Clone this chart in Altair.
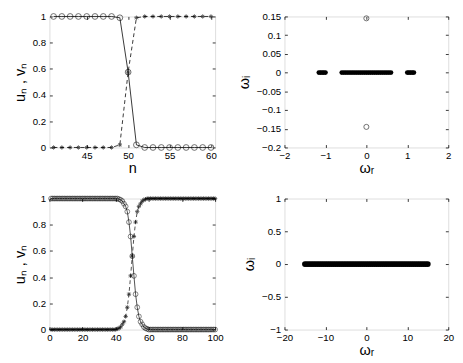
import altair as alt
import pandas as pd

# ---------------- data ----------------
# top-left panel (zoom on the kink)
n_top = list(range(41, 61))
u_top = [1, 1, 1, 1, 1, 1, 1, 1, 0.99, 0.575, 0.02, 0, 0, 0, 0, 0, 0, 0, 0, 0]
v_top = [0, 0, 0, 0, 0, 0, 0, 0, 0.02, 0.575, 0.99, 1, 1, 1, 1, 1, 1, 1, 1, 1]

# bottom-left panel (full lattice)
n_bot = list(range(1, 101))
u_bot = ([1.0] * 41 +
         [0.995, 0.99, 0.98, 0.96, 0.94, 0.9, 0.82, 0.71, 0.56, 0.41, 0.27,
          0.17, 0.1, 0.06, 0.04, 0.02, 0.01, 0.005] +
         [0.0] * 41)
v_bot = ([0.0] * 40 +
         [0.005, 0.01, 0.02, 0.04, 0.06, 0.1, 0.17, 0.27, 0.41, 0.56, 0.71,
          0.82, 0.9, 0.94, 0.96, 0.98, 0.99, 0.995] +
         [1.0] * 42)

# top-right spectrum
wr_band1 = [-1.16, -1.12, -1.08, -1.04, -1.0,
            -0.6, -0.55, -0.5, -0.45, -0.4, -0.35, -0.3, -0.25, -0.2, -0.15,
            -0.1, -0.05, 0.0, 0.05, 0.1, 0.15, 0.2, 0.25, 0.3, 0.35, 0.4,
            0.45, 0.5, 0.55, 0.6,
            1.0, 1.04, 1.08, 1.12, 1.16]
wr_unstable = [0.0, 0.0]
wi_unstable = [0.145, -0.145]

# bottom-right spectrum
wr_band2 = [-15.0, -14.5, -14.0, -13.5, -13.0, -12.5, -12.0, -11.5, -11.0,
            -10.5, -10.0, -9.5, -9.0, -8.5, -8.0, -7.5, -7.0, -6.5, -6.0,
            -5.5, -5.0, -4.5, -4.0, -3.5, -3.0, -2.5, -2.0, -1.5, -1.0, -0.5,
            0.0, 0.5, 1.0, 1.5, 2.0, 2.5, 3.0, 3.5, 4.0, 4.5, 5.0, 5.5, 6.0,
            6.5, 7.0, 7.5, 8.0, 8.5, 9.0, 9.5, 10.0, 10.5, 11.0, 11.5, 12.0,
            12.5, 13.0, 13.5, 14.0, 14.5, 15.0]

STAR = "M-1,0L1,0M0,-1L0,1M-0.7,-0.7L0.7,0.7M-0.7,0.7L0.7,-0.7"

WL, WR, H = 172, 170, 136
FONT = "Liberation Sans"


def panel(layers_fn, xdom, ydom, xticks, yticks, xtitle, ytitle, width):
    xs = alt.Scale(domain=xdom, nice=False, zero=False)
    ys = alt.Scale(domain=ydom, nice=False, zero=False)
    common = dict(format="~r", offset=-3, tickSize=3, domain=False, grid=False,
                  labelFlush=False, labelOverlap=False,
                  labelFont=FONT, labelFontSize=10, labelColor="black",
                  titleFont=FONT, titleFontSize=15, titleFontWeight="normal",
                  titleColor="black", tickColor="black", tickWidth=0.8)
    main_xaxis = alt.Axis(values=xticks, title=xtitle, labelPadding=3,
                          titlePadding=1, **common) if xtitle else \
        alt.Axis(values=xticks, title=None, labelPadding=3, **common)
    main_yaxis = alt.Axis(values=yticks, title=ytitle, labelPadding=4,
                          titlePadding=5, **common)
    mirror_x = alt.Axis(values=xticks, orient="top", labels=False, title=None,
                        offset=-3, tickSize=3, domain=False, grid=False,
                        tickColor="black", tickWidth=0.8)
    mirror_y = alt.Axis(values=yticks, orient="right", labels=False, title=None,
                        offset=-3, tickSize=3, domain=False, grid=False,
                        tickColor="black", tickWidth=0.8)
    layers = layers_fn(xs, ys)
    first = layers[0]
    ax1 = first.mark_point(opacity=0).encode(
        x=alt.X("x:Q", scale=xs, axis=main_xaxis),
        y=alt.Y("y:Q", scale=ys, axis=main_yaxis))
    ax2 = first.mark_point(opacity=0).encode(
        x=alt.X("x:Q", scale=xs, axis=mirror_x),
        y=alt.Y("y:Q", scale=ys, axis=mirror_y))
    return alt.layer(ax1, *layers[1:], ax2).resolve_axis(
        x="independent", y="independent").properties(width=width, height=H)


def tl_layers(xs, ys):
    du = pd.DataFrame({"x": n_top, "y": u_top})
    dv = pd.DataFrame({"x": n_top, "y": v_top})
    X = alt.X("x:Q", scale=xs, axis=None)
    Y = alt.Y("y:Q", scale=ys, axis=None)
    return [
        alt.Chart(du),
        alt.Chart(du).mark_line(color="black", strokeWidth=0.8).encode(x=X, y=Y),
        alt.Chart(dv).mark_line(color="black", strokeWidth=0.8,
                                strokeDash=[4, 3]).encode(x=X, y=Y),
        alt.Chart(du).mark_point(shape="circle", filled=False, color="black",
                                 size=36, strokeWidth=0.8).encode(x=X, y=Y),
        alt.Chart(dv).mark_point(shape=STAR, filled=False, color="black",
                                 size=20, strokeWidth=0.9).encode(x=X, y=Y),
    ]


def bl_layers(xs, ys):
    du = pd.DataFrame({"x": n_bot, "y": u_bot})
    dv = pd.DataFrame({"x": n_bot, "y": v_bot})
    X = alt.X("x:Q", scale=xs, axis=None)
    Y = alt.Y("y:Q", scale=ys, axis=None)
    return [
        alt.Chart(du),
        alt.Chart(du).mark_line(color="black", strokeWidth=0.7).encode(x=X, y=Y),
        alt.Chart(dv).mark_line(color="black", strokeWidth=0.7,
                                strokeDash=[4, 3]).encode(x=X, y=Y),
        alt.Chart(du).mark_point(shape="circle", filled=False, color="black",
                                 size=25, strokeWidth=0.7).encode(x=X, y=Y),
        alt.Chart(dv).mark_point(shape=STAR, filled=False, color="black",
                                 size=20, strokeWidth=0.9).encode(x=X, y=Y),
    ]


def tr_layers(xs, ys):
    db = pd.DataFrame({"x": wr_band1, "y": [0.0] * len(wr_band1)})
    du = pd.DataFrame({"x": wr_unstable, "y": wi_unstable})
    X = alt.X("x:Q", scale=xs, axis=None)
    Y = alt.Y("y:Q", scale=ys, axis=None)
    return [
        alt.Chart(db),
        alt.Chart(db).mark_point(shape="circle", filled=True, color="black",
                                 size=25, opacity=1).encode(x=X, y=Y),
        alt.Chart(du).mark_point(shape="circle", filled=False, color="black",
                                 size=28, strokeWidth=0.8).encode(x=X, y=Y),
    ]


def br_layers(xs, ys):
    db = pd.DataFrame({"x": wr_band2, "y": [0.0] * len(wr_band2)})
    X = alt.X("x:Q", scale=xs, axis=None)
    Y = alt.Y("y:Q", scale=ys, axis=None)
    return [
        alt.Chart(db),
        alt.Chart(db).mark_point(shape="circle", filled=True, color="black",
                                 size=36, opacity=1).encode(x=X, y=Y),
    ]


tl = panel(tl_layers, [40.5, 60.5], [0, 1], [45, 50, 55, 60],
           [0, 0.2, 0.4, 0.6, 0.8, 1], "n", "uₙ , vₙ", WL)
tr = panel(tr_layers, [-2, 2], [-0.2, 0.15], [-2, -1, 0, 1, 2],
           [-0.2, -0.15, -0.1, -0.05, 0, 0.05, 0.1, 0.15], "ωᵣ", "ωᵢ", WR)
bl = panel(bl_layers, [0, 100], [0, 1], [0, 20, 40, 60, 80, 100],
           [0, 0.2, 0.4, 0.6, 0.8, 1], None, "uₙ , vₙ", WL)
br = panel(br_layers, [-20, 20], [-1, 1], [-20, -10, 0, 10, 20],
           [-1, -0.5, 0, 0.5, 1], "ωᵣ", "ωᵢ", WR)

chart = alt.concat(tl, tr, bl, br, columns=2,
                   spacing={"row": 17, "column": 13}).properties(
    padding={"left": 4, "top": -4, "right": 0, "bottom": 0}
).configure_view(
    stroke="black", strokeWidth=1
).configure(background="white")

chart.save("out.html", embed_options={"renderer": "svg", "actions": False})
